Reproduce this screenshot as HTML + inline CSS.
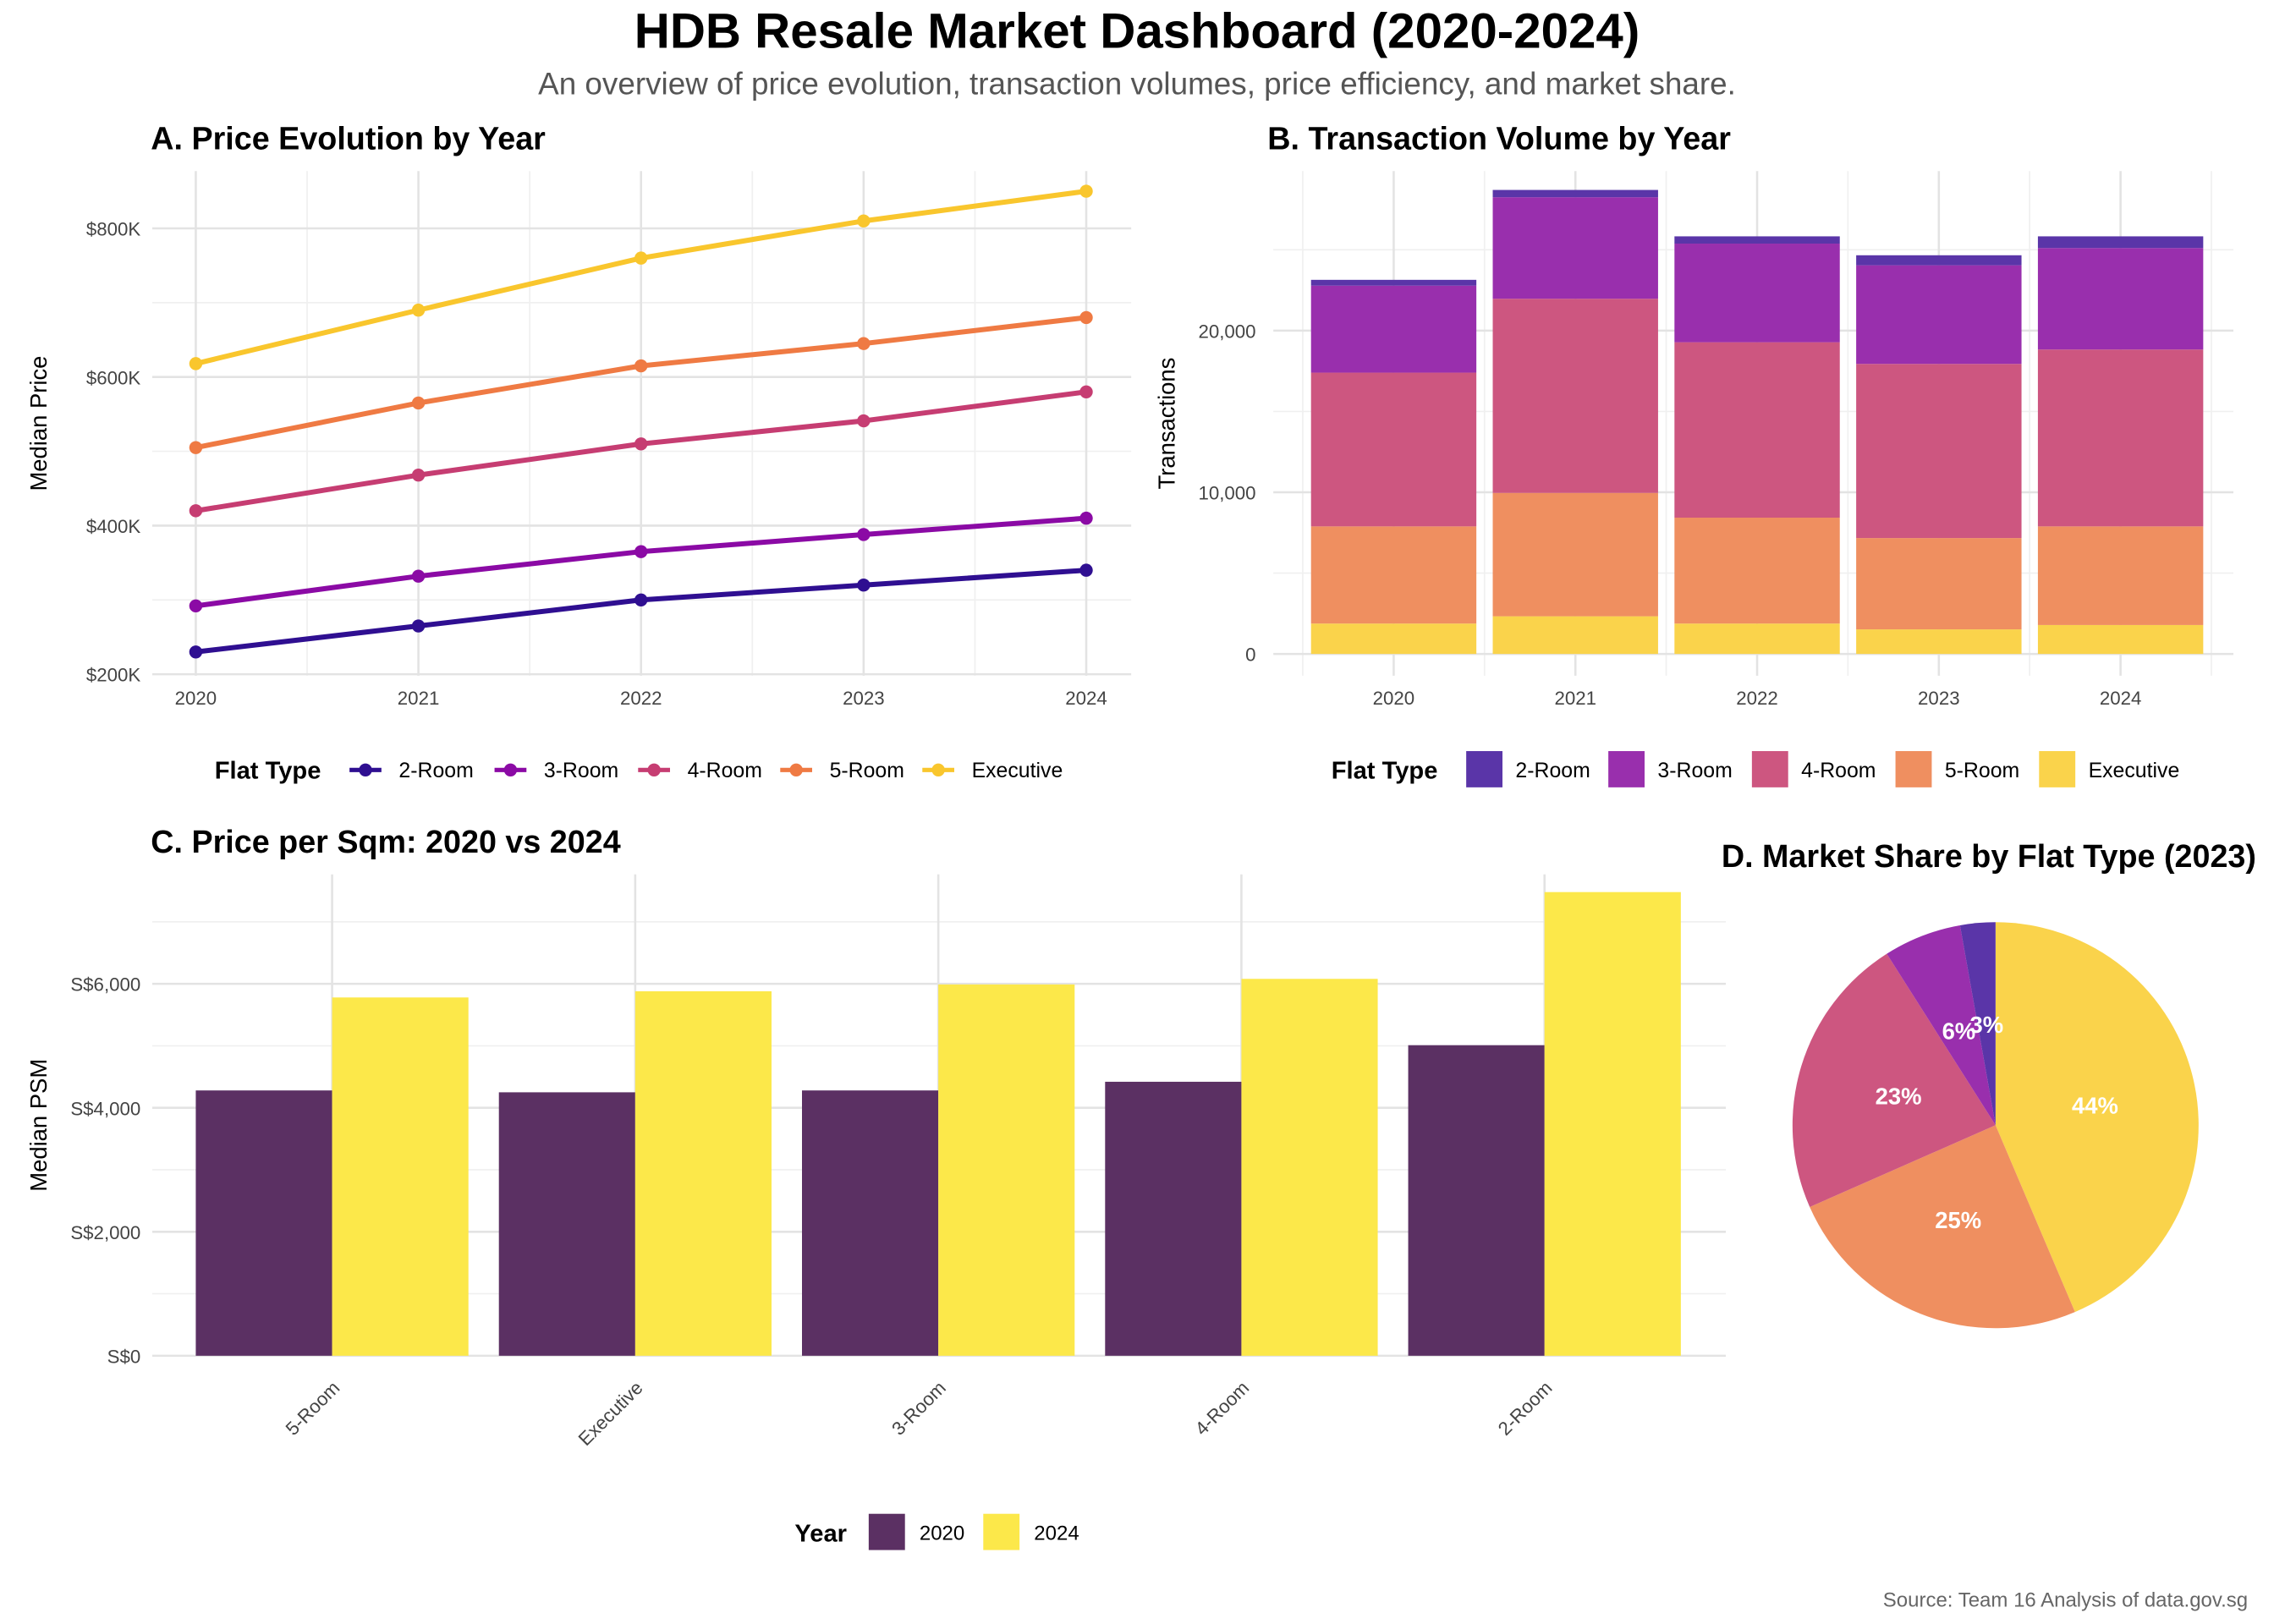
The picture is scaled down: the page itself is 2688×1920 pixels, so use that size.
<!DOCTYPE html>
<html><head><meta charset="utf-8"><style>
html,body{margin:0;padding:0;background:#fff}
svg{display:block;font-family:"Liberation Sans",Arial,sans-serif}
</style></head><body>
<svg id="root" xmlns="http://www.w3.org/2000/svg" width="2688" height="1920" viewBox="0 0 1568 1120">
<rect width="1568" height="1120" fill="#fff"/>
<text x="784" y="33" text-anchor="middle" font-size="34" font-weight="bold">HDB Resale Market Dashboard (2020-2024)</text>
<text x="784" y="65" text-anchor="middle" font-size="21.5" fill="#555">An overview of price evolution, transaction volumes, price efficiency, and market share.</text>
<text x="104" y="103" font-size="22" font-weight="bold">A. Price Evolution by Year</text>
<text x="874" y="103" font-size="22" font-weight="bold">B. Transaction Volume by Year</text>
<text x="104" y="588" font-size="22" font-weight="bold">C. Price per Sqm: 2020 vs 2024</text>
<text x="1187" y="598" font-size="22" font-weight="bold">D. Market Share by Flat Type (2023)</text>
<text x="1550" y="1108" text-anchor="end" font-size="14" fill="#666">Source: Team 16 Analysis of data.gov.sg</text>
<g id="ga"></g><g id="gb"></g><g id="gc"></g><g id="gd"></g>
</svg>
<script>
const years = ["2020","2021","2022","2023","2024"];
const flatTypes = ["2-Room","3-Room","4-Room","5-Room","Executive"];
const priceK2Room = [230,265,300,320,340];
const priceK3Room = [292,332,365,388,410];
const priceK4Room = [420,468,510,541,580];
const priceK5Room = [505,565,615,645,680];
const priceKExec = [618,690,760,810,850];
const priceTicks = [200,400,600,800];
const volExec = [1880,2330,1880,1520,1790];
const vol5Room = [6010,7630,6550,5650,6100];
const vol4Room = [9510,12010,10850,10770,10940];
const vol3Room = [5380,6280,6100,6100,6280];
const vol2Room = [360,450,450,620,720];
const volTicks = [0,10000,20000];
const psmCats = ["5-Room","Executive","3-Room","4-Room","2-Room"];
const psm2020 = [4280,4250,4280,4420,5010];
const psm2024 = [5780,5880,5990,6080,7480];
const psmTicks = [0,2000,4000,6000];
const shareLabels = ["Executive","5-Room","4-Room","3-Room","2-Room"];
const shareValues = [43.6,24.8,22.6,6.2,2.8];

const NS="http://www.w3.org/2000/svg";
function mk(p,tag,at,txt){const e=document.createElementNS(NS,tag);for(const k in at)e.setAttribute(k,at[k]);if(txt!==undefined)e.textContent=txt;p.appendChild(e);return e;}
const lineCol=["#2f0f91","#8b0aa5","#c63d72","#ef7a43","#f9c62d"];
const barCol=["#5a35a8","#992fad","#cd5680","#ef8f60","#fad34b"];

// Panel A
const ga=document.getElementById('ga');
const ax=i=>135+i*153.5, ay=v=>465-(v-200)/200*102.5;
for(let i=0;i<4;i++){const l=mk(ga,'line',{x1:(ax(i)+ax(i+1))/2,x2:(ax(i)+ax(i+1))/2,y1:118,y2:466,stroke:'#f0f0f0','stroke-width':1});}
[300,500,700].forEach(v=>{const l=mk(ga,'line',{x1:105,x2:780,y1:ay(v),y2:ay(v),stroke:'#f0f0f0'});});
years.forEach((y,i)=>{const l=mk(ga,'line',{x1:ax(i),x2:ax(i),y1:118,y2:466,stroke:'#e3e3e3','stroke-width':1.5});
 const t=mk(ga,'text',{x:ax(i),y:486,'text-anchor':'middle','font-size':13,fill:'#444'},y);});
priceTicks.forEach(v=>{const l=mk(ga,'line',{x1:105,x2:780,y1:ay(v),y2:ay(v),stroke:'#e3e3e3','stroke-width':1.5});
 const t=mk(ga,'text',{x:97,y:ay(v)+5,'text-anchor':'end','font-size':13,fill:'#444'},'$'+v+'K');});
let yt=mk(ga,'text',{x:32,y:292,'text-anchor':'middle','font-size':16,transform:'rotate(-90 32 292)'},'Median Price');
[priceK2Room,priceK3Room,priceK4Room,priceK5Room,priceKExec].forEach((s,k)=>{
 const p=mk(ga,'polyline',{points:s.map((v,i)=>ax(i)+','+ay(v)).join(' '),fill:'none',stroke:lineCol[k],'stroke-width':3.5});
 s.forEach((v,i)=>{const c=mk(ga,'circle',{cx:ax(i),cy:ay(v),r:4.5,fill:lineCol[k]});});});
let lt=mk(ga,'text',{x:148,y:537,'font-size':17,'font-weight':'bold'},'Flat Type');
[241,341,440,538,636].forEach((x,k)=>{const g=mk(ga,'g',{});
 mk(g,'line',{x1:x,x2:x+22,y1:531,y2:531,stroke:lineCol[k],'stroke-width':3});mk(g,'circle',{cx:x+11,cy:531,r:4.5,fill:lineCol[k]});
 mk(g,'text',{x:x+34,y:536,'font-size':14.5},flatTypes[k]);});

// Panel B
const gb=document.getElementById('gb');
const bx=i=>961+i*125.3, by=v=>451-v/10000*111.5;
for(let i=-1;i<5;i++){const xx=bx(i)+62.6;const l=mk(gb,'line',{x1:xx,x2:xx,y1:118,y2:466,stroke:'#f0f0f0'});}
[5000,15000,25000].forEach(v=>{const l=mk(gb,'line',{x1:878,x2:1540,y1:by(v),y2:by(v),stroke:'#f0f0f0'});});
volTicks.forEach(v=>{const l=mk(gb,'line',{x1:878,x2:1540,y1:by(v),y2:by(v),stroke:'#e3e3e3','stroke-width':1.5});
 const t=mk(gb,'text',{x:866,y:by(v)+5,'text-anchor':'end','font-size':13,fill:'#444'},v.toLocaleString('en-US'));});
years.forEach((y,i)=>{const l=mk(gb,'line',{x1:bx(i),x2:bx(i),y1:118,y2:466,stroke:'#e3e3e3','stroke-width':1.5});
 const t=mk(gb,'text',{x:bx(i),y:486,'text-anchor':'middle','font-size':13,fill:'#444'},y);});
yt=mk(gb,'text',{x:810,y:292,'text-anchor':'middle','font-size':16,transform:'rotate(-90 810 292)'},'Transactions');
const stackOrder=[volExec,vol5Room,vol4Room,vol3Room,vol2Room], stackCol=[4,3,2,1,0];
years.forEach((y,i)=>{let base=0;stackOrder.forEach((s,k)=>{const top=base+s[i];
 const r=mk(gb,'rect',{x:bx(i)-57,y:by(top),width:114,height:by(base)-by(top),fill:barCol[stackCol[k]]});base=top;});});
lt=mk(gb,'text',{x:918,y:537,'font-size':17,'font-weight':'bold'},'Flat Type');
[1011,1109,1208,1307,1406].forEach((x,k)=>{const g=mk(gb,'g',{});
 mk(g,'rect',{x:x,y:518,width:25,height:25,fill:barCol[k]});mk(g,'text',{x:x+34,y:536,'font-size':14.5},flatTypes[k]);});

// Panel C
const gc=document.getElementById('gc');
const cx=i=>229+i*209, cy=v=>935-v/2000*85.5;
[1000,3000,5000,7000].forEach(v=>{const l=mk(gc,'line',{x1:105,x2:1190,y1:cy(v),y2:cy(v),stroke:'#f0f0f0'});});
psmTicks.forEach(v=>{const l=mk(gc,'line',{x1:105,x2:1190,y1:cy(v),y2:cy(v),stroke:'#e3e3e3','stroke-width':1.5});
 const t=mk(gc,'text',{x:97,y:cy(v)+5,'text-anchor':'end','font-size':13,fill:'#444'},'S$'+v.toLocaleString('en-US'));});
psmCats.forEach((c,i)=>{const l=mk(gc,'line',{x1:cx(i),x2:cx(i),y1:603,y2:935,stroke:'#e3e3e3','stroke-width':1.5});
 const t=mk(gc,'text',{x:cx(i)+6,y:958,'text-anchor':'end','font-size':13,fill:'#444',transform:`rotate(-45 ${cx(i)+6} 958)`},c);
 let r=mk(gc,'rect',{x:cx(i)-94,y:cy(psm2020[i]),width:94,height:935-cy(psm2020[i]),fill:'#5b3063'});
 r=mk(gc,'rect',{x:cx(i),y:cy(psm2024[i]),width:94,height:935-cy(psm2024[i]),fill:'#fce84a'});});
yt=mk(gc,'text',{x:32,y:776,'text-anchor':'middle','font-size':16,transform:'rotate(-90 32 776)'},'Median PSM');
lt=mk(gc,'text',{x:548,y:1063,'font-size':17,'font-weight':'bold'},'Year');
[[599,'#5b3063','2020'],[678,'#fce84a','2024']].forEach(d=>{const g=mk(gc,'g',{});
 mk(g,'rect',{x:d[0],y:1044,width:25,height:25,fill:d[1]});mk(g,'text',{x:d[0]+35,y:1062,'font-size':14},d[2]);});

// Panel D
const gd=document.getElementById('gd');
const pcx=1376,pcy=776,R=140;const tot=shareValues.reduce((a,b)=>a+b,0);
const pieCol=[barCol[4],barCol[3],barCol[2],barCol[1],barCol[0]];
let ang=0;shareValues.forEach((v,k)=>{const a0=ang,a1=ang+v/tot*2*Math.PI;ang=a1;
 const p=(a,r)=>[pcx+r*Math.sin(a),pcy-r*Math.cos(a)];const [x0,y0]=p(a0,R),[x1,y1]=p(a1,R);
 const s=mk(gd,'path',{d:`M${pcx},${pcy}L${x0},${y0}A${R},${R} 0 ${a1-a0>Math.PI?1:0} 1 ${x1},${y1}Z`,fill:pieCol[k]});});
ang=0;shareValues.forEach((v,k)=>{const a=ang+v/tot*Math.PI;ang+=v/tot*2*Math.PI;
 const t=mk(gd,'text',{x:pcx+R*0.5*Math.sin(a),y:pcy-R*0.5*Math.cos(a)+6,'text-anchor':'middle','font-size':16,'font-weight':'bold',fill:'#fff'},Math.round(v)+'%');});
</script>
</body></html>
